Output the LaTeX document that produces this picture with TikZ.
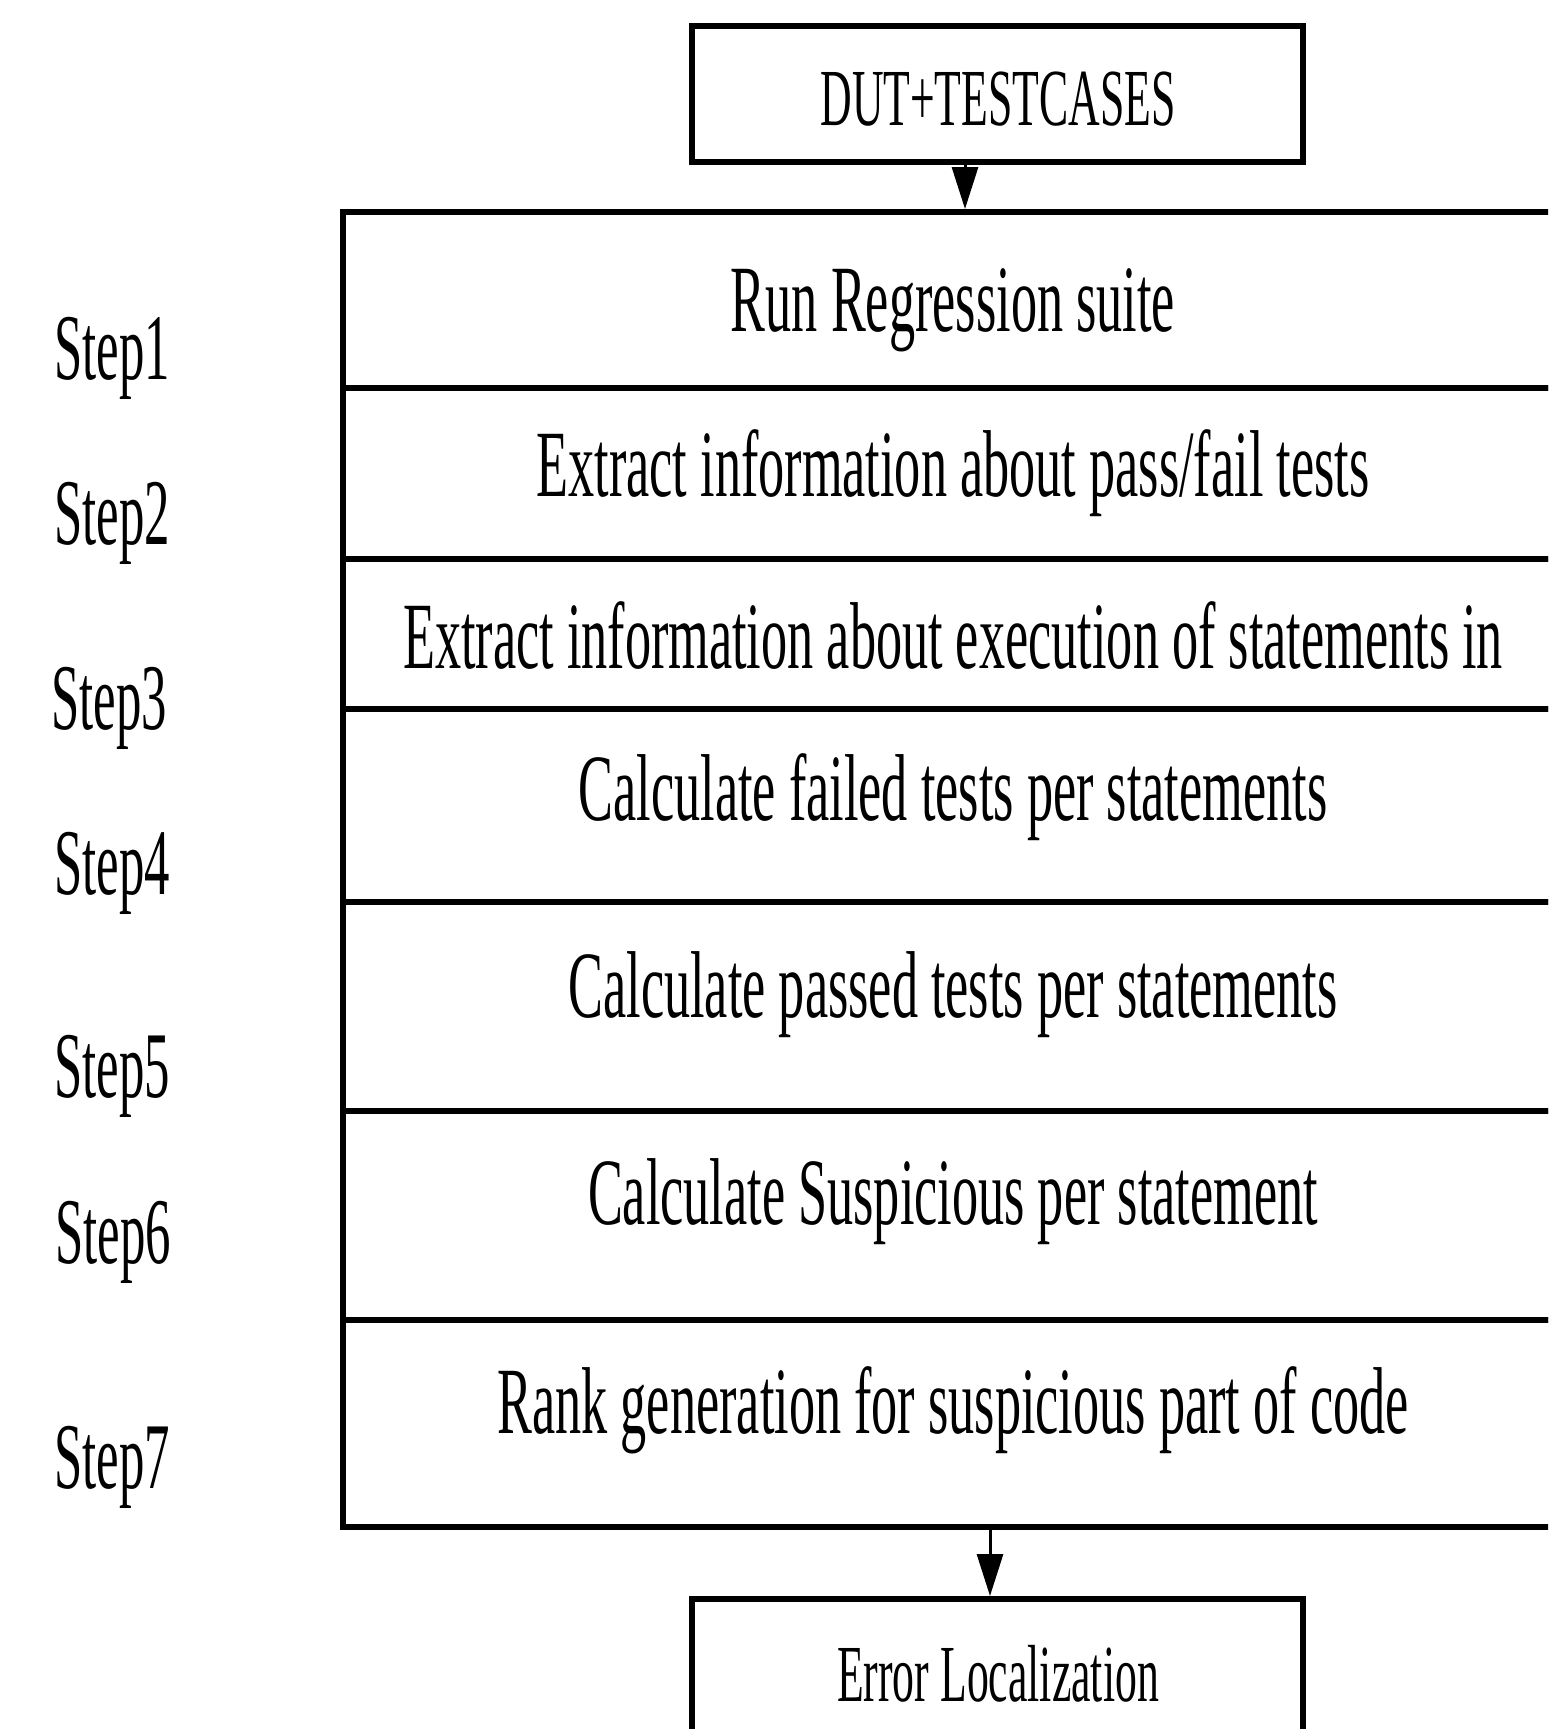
\documentclass[tikz,border=0pt]{standalone}
\usepackage{fontspec}
\usepackage{graphicx}
\setmainfont{Liberation Serif}
\usetikzlibrary{arrows.meta}
\tikzset{
  frame/.style={draw=black, line width=6pt, rectangle, inner sep=0pt},
  rowbox/.style={frame, minimum width=1215pt},
  arr/.style={draw=black, line width=3pt, -{Triangle[length=42pt,width=26pt]}},
  capline/.style={inner sep=0pt, text depth=0pt},
  rowtxt/.style={capline, text height=63pt, font=\fontsize{95}{100}\selectfont},
  boxtxt/.style={capline, text height=53pt, font=\fontsize{81}{86}\selectfont},
  steplbl/.style={capline, text height=62pt, font=\fontsize{94}{98}\selectfont}
}
% horizontally condensed text
\newcommand{\cond}[2][0.55]{\scalebox{#1}[1]{#2}}
\begin{document}
\begin{tikzpicture}[x=1pt,y=-1pt]
\path[use as bounding box] (0,0) rectangle (1548,1729);
\clip (0,0) rectangle (1548,1729);
\fill[white] (0,0) rectangle (1548,1729);

% input box
\node[frame, minimum width=611pt, minimum height=136pt] (dut) at (997.5,94) {};
\node[boxtxt] (tdut) at (998,98.5) {\cond[0.54]{DUT+TESTCASES}};

% stacked step rows
\node[rowbox, minimum height=176pt] (r1) at (950.5,300) {};
\node[rowbox, minimum height=171pt] (r2) at (950.5,473.5) {};
\node[rowbox, minimum height=150pt] (r3) at (950.5,634) {};
\node[rowbox, minimum height=193pt] (r4) at (950.5,805.5) {};
\node[rowbox, minimum height=209pt] (r5) at (950.5,1006.5) {};
\node[rowbox, minimum height=209pt] (r6) at (950.5,1215.5) {};
\node[rowbox, minimum height=207pt] (r7) at (950.5,1423.5) {};

\node[rowtxt] (t1) at (953,300) {\cond{Run Regression suite}};
\node[rowtxt] (t2) at (953,465) {\cond{Extract information about pass/fail tests}};
\node[rowtxt] (t3) at (953,637) {\cond{Extract information about execution of statements in}};
\node[rowtxt] (t4) at (953,789) {\cond{Calculate failed tests per statements}};
\node[rowtxt] (t5) at (953,986) {\cond{Calculate passed tests per statements}};
\node[rowtxt] (t6) at (953,1193) {\cond{Calculate Suspicious per statement}};
\node[rowtxt] (t7) at (953,1402) {\cond{Rank generation for suspicious part of code}};

% output box
\node[frame, minimum width=611pt, minimum height=154pt] (err) at (997.5,1676) {};
\node[boxtxt] (terr) at (998,1675) {\cond[0.54]{Error Localization}};

% step labels
\node[steplbl] (s1) at (112,348) {\cond[0.54]{Step1}};
\node[steplbl] (s2) at (112,513) {\cond[0.54]{Step2}};
\node[steplbl] (s3) at (109,698) {\cond[0.54]{Step3}};
\node[steplbl] (s4) at (112,863) {\cond[0.54]{Step4}};
\node[steplbl] (s5) at (112,1066) {\cond[0.54]{Step5}};
\node[steplbl] (s6) at (113,1232) {\cond[0.54]{Step6}};
\node[steplbl] (s7) at (112,1457) {\cond[0.54]{Step7}};

% connectors
\draw[arr] ([xshift=-32.5pt]dut.south) -- ([xshift=-32.5pt]dut.south |- r1.north);
\draw[arr] ([xshift=39.5pt]r7.south) -- ([xshift=39.5pt]r7.south |- err.north);
\end{tikzpicture}
\end{document}
